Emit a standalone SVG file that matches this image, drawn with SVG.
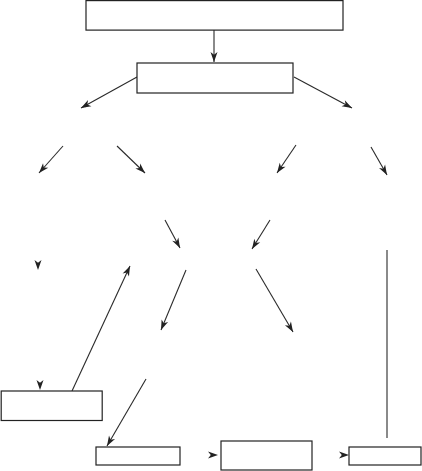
<svg xmlns="http://www.w3.org/2000/svg" width="422" height="471" viewBox="0 0 422 471">
<defs>
<marker id="ah" markerUnits="userSpaceOnUse" markerWidth="11" markerHeight="8" refX="10" refY="3.5" orient="auto" overflow="visible">
<path d="M0,0 L10,3.5 L0,7 L2.8,3.5 z" fill="#222"/>
</marker>
<style>
.box{fill:#fff;stroke:#222;stroke-width:1.2}
.ln{fill:none;stroke:#2a2a2a;stroke-width:1.1}
.ar{fill:none;stroke:#2a2a2a;stroke-width:1.1;marker-end:url(#ah)}
.hd{fill:none;stroke:none;marker-end:url(#ah)}
</style>
</defs>
<rect width="422" height="471" fill="#fff"/>
<g id="connectors">
<path class="ar" d="M214,30 L214,62"/>
<path class="ar" d="M137,77 L81,108"/>
<path class="ar" d="M294,77 L352,108"/>
<path class="ar" d="M63,146 L39,173"/>
<path class="ar" d="M117,146 L145,173"/>
<path class="ar" d="M296,145 L277,173"/>
<path class="ar" d="M371,147 L387,175"/>
<path class="ar" d="M165,220 L180,248"/>
<path class="ar" d="M270,220 L252,249"/>
<path class="hd" d="M38,252 L38,270"/>
<path class="ar" d="M72,391 L130,266"/>
<path class="ar" d="M186,270 L161,330"/>
<path class="ar" d="M256,269 L293,332"/>
<path class="hd" d="M40,375 L40,390"/>
<path class="ar" d="M146,379 L107,446"/>
<path class="ln" d="M387,250 L387,438"/>
<path class="hd" d="M200,455 L218,455"/>
<path class="hd" d="M330,455 L349,455"/>
</g>
<g id="n1"><rect class="box" x="86" y="0.6" width="257" height="29.5"/></g>
<g id="n2"><rect class="box" x="137" y="63" width="156" height="30"/></g>
<g id="n3"><rect class="box" x="1.2" y="391" width="101" height="29.5"/></g>
<g id="n4"><rect class="box" x="96" y="447" width="84" height="18"/></g>
<g id="n5"><rect class="box" x="221" y="441" width="91" height="29"/></g>
<g id="n6"><rect class="box" x="349" y="447" width="72" height="18"/></g>
</svg>
